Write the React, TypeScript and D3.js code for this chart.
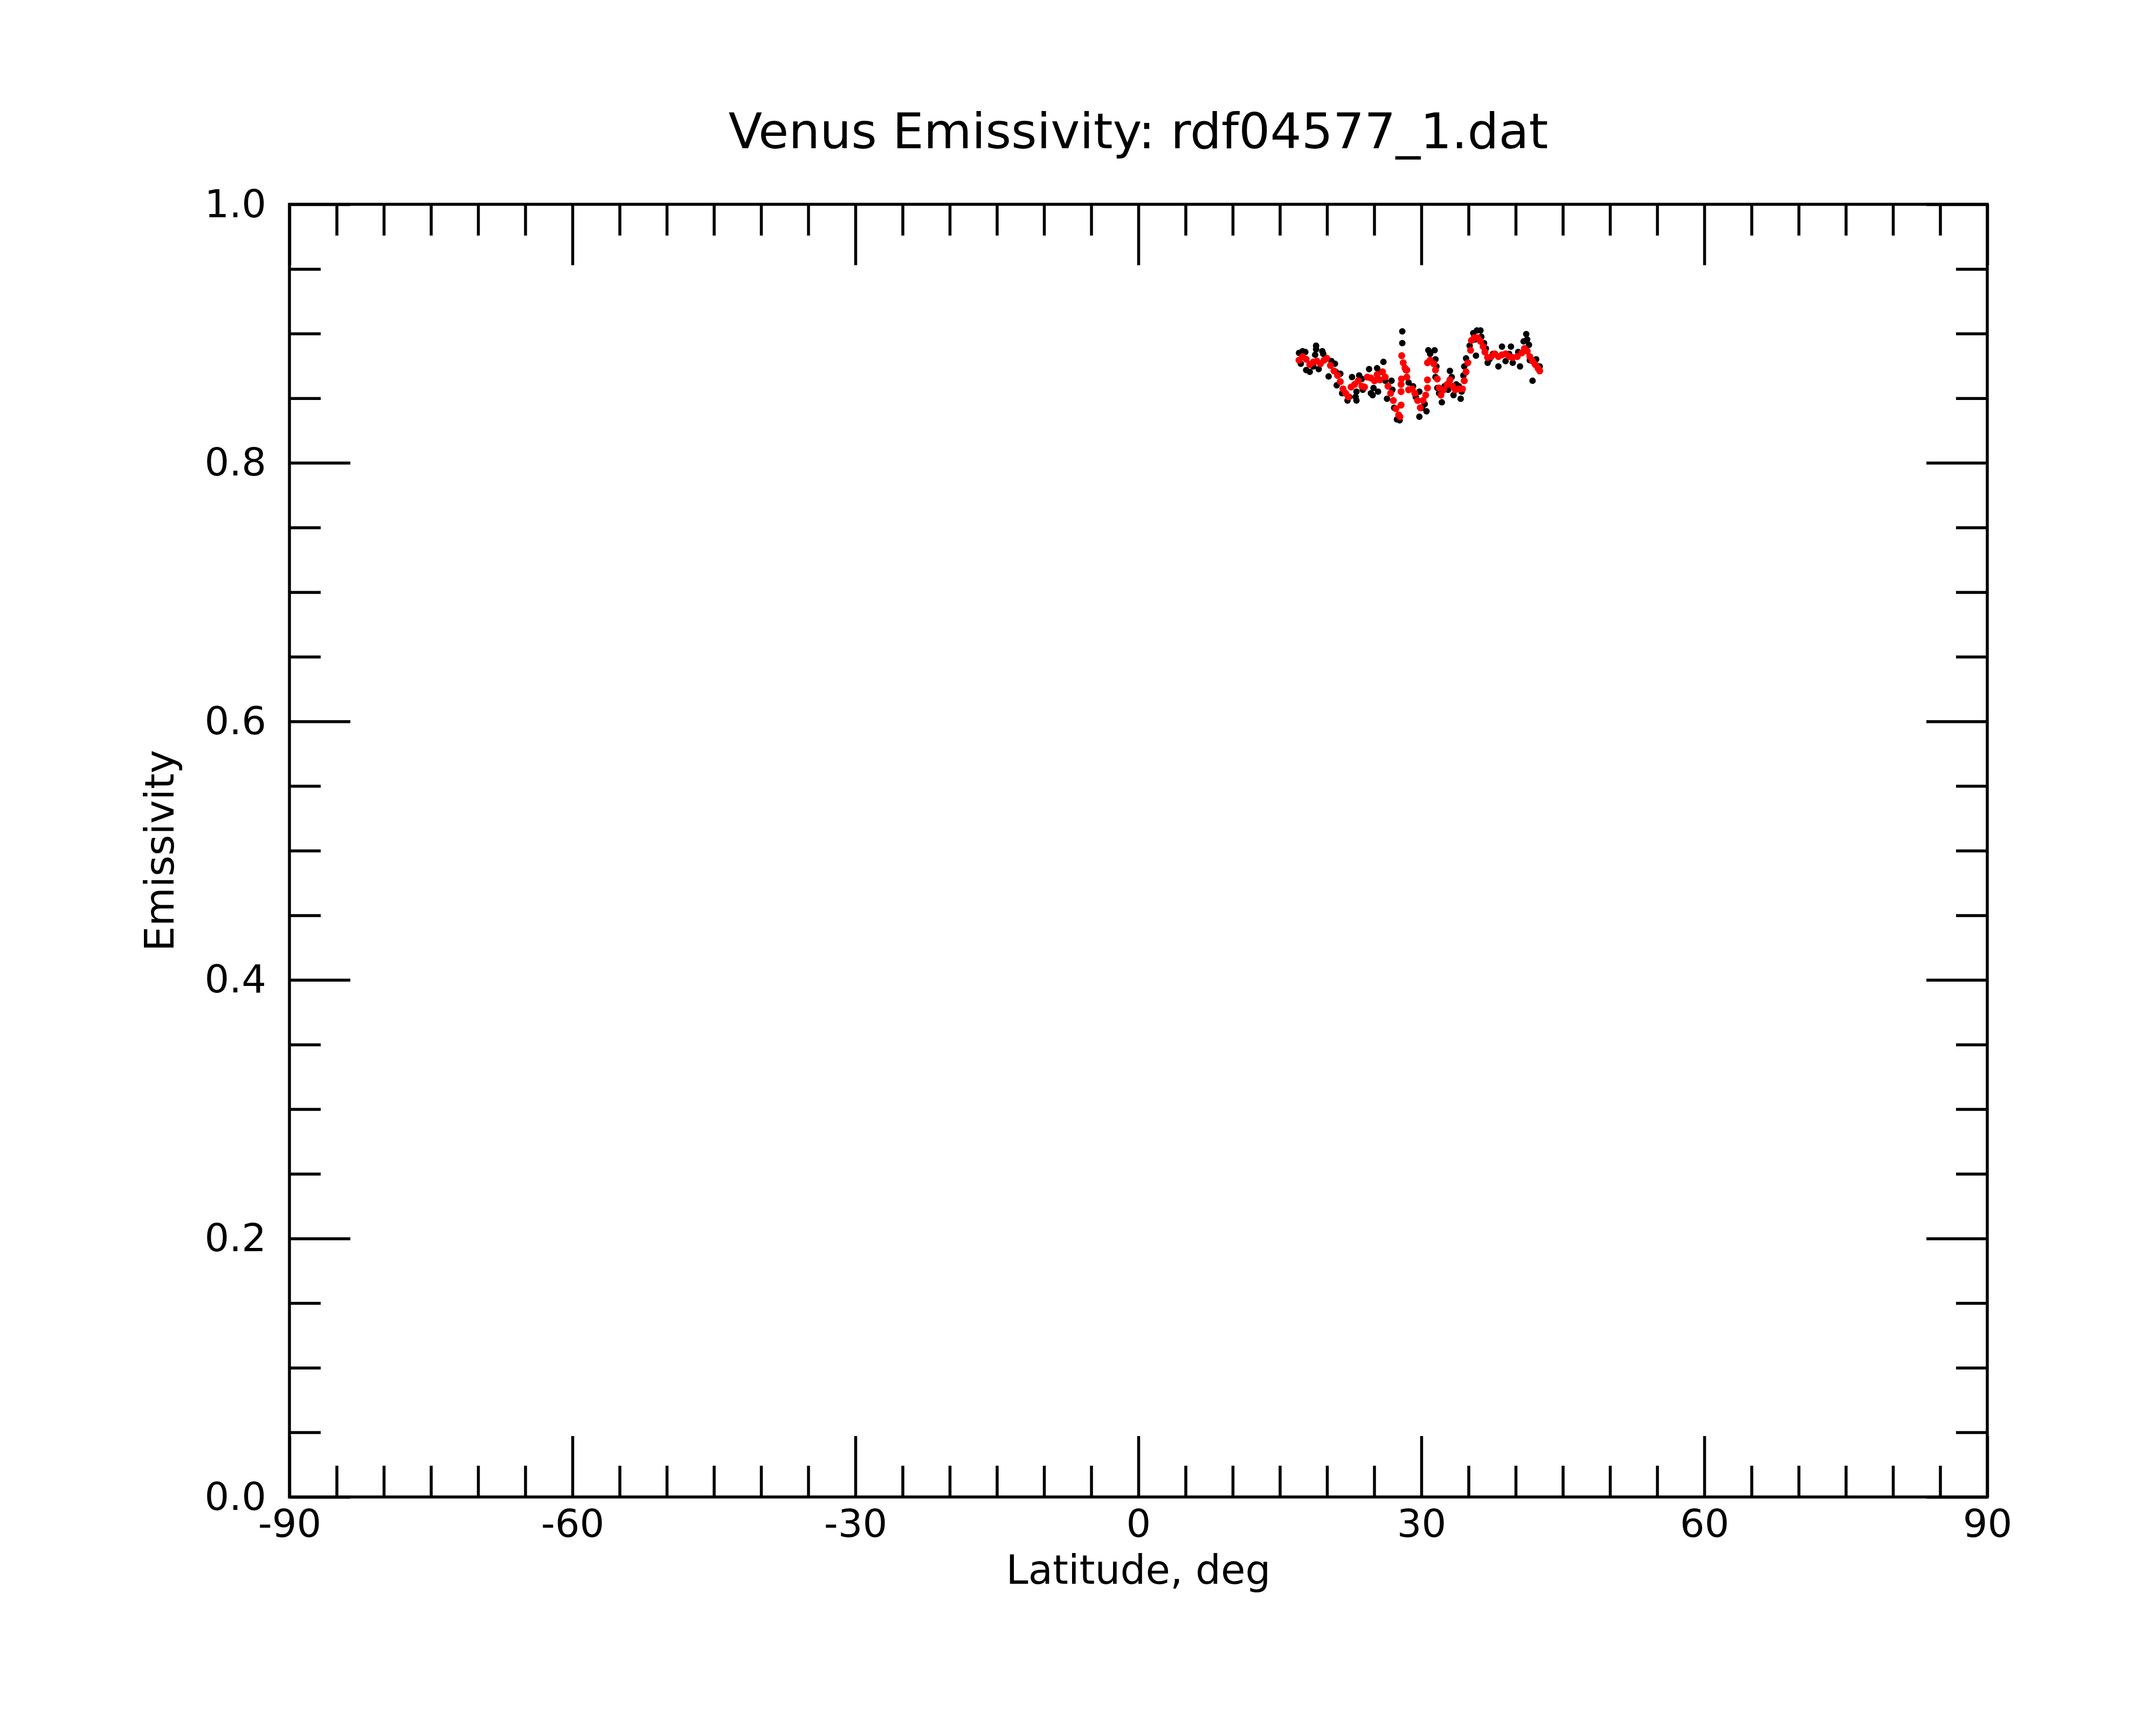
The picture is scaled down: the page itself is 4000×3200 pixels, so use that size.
import React, { useEffect, useRef } from 'react';
import * as d3 from 'd3';

// raw emissivity samples [latitude, emissivity]
const rawPoints: [number, number][] = [
  [17.03, 0.885], [17.41, 0.8864], [17.7, 0.8857], [17.22, 0.8767], [17.79, 0.8718],
  [18.17, 0.8704], [18.55, 0.8746], [18.84, 0.8906], [18.84, 0.8878], [18.74, 0.8836],
  [19.12, 0.8725], [19.5, 0.8864], [19.6, 0.8843], [20.17, 0.8669], [20.84, 0.8767],
  [20.93, 0.8704], [21.03, 0.86], [20.46, 0.8788], [21.41, 0.869], [21.6, 0.8538],
  [22.17, 0.8482], [22.36, 0.851], [22.65, 0.8663], [23.03, 0.851], [23.12, 0.8482],
  [23.41, 0.8676], [23.12, 0.8551], [23.7, 0.8649], [23.79, 0.8565], [24.46, 0.8725],
  [24.65, 0.8538], [24.84, 0.8524], [24.93, 0.8579], [25.31, 0.8732], [25.41, 0.8551],
  [25.79, 0.8704], [25.98, 0.8781], [26.17, 0.8635], [26.36, 0.8496], [26.84, 0.8635],
  [26.93, 0.8565], [27.12, 0.8426], [27.41, 0.8336], [27.7, 0.8329], [27.98, 0.9017],
  [27.98, 0.8926], [28.36, 0.8718], [28.65, 0.8621], [29.12, 0.8593], [29.41, 0.851],
  [29.79, 0.8551], [29.79, 0.8357], [30.08, 0.8426], [30.36, 0.8454], [30.55, 0.8399],
  [30.74, 0.8871], [30.93, 0.8843], [31.41, 0.8871], [31.5, 0.8801], [31.6, 0.8746],
  [31.5, 0.8663], [31.69, 0.8579], [31.88, 0.8538], [32.17, 0.8468], [32.46, 0.8593],
  [32.84, 0.8565], [33.03, 0.8711], [33.22, 0.8663], [33.41, 0.8524], [33.7, 0.8607],
  [33.98, 0.8593], [34.17, 0.8496], [34.27, 0.8551], [34.46, 0.8676], [34.55, 0.8746],
  [34.74, 0.8808], [35.12, 0.8906], [35.5, 0.9003], [35.7, 0.8954], [35.79, 0.8829],
  [35.89, 0.9024], [36.27, 0.9024], [36.36, 0.8975], [36.65, 0.8926], [36.84, 0.8885],
  [37.03, 0.8774], [37.22, 0.8801], [37.6, 0.8843], [38.17, 0.8746], [38.55, 0.8899],
  [38.93, 0.8787], [39.31, 0.8843], [39.5, 0.8899], [39.69, 0.8774], [40.27, 0.8857],
  [40.46, 0.8746], [40.84, 0.894], [41.12, 0.8996], [41.22, 0.8954], [41.41, 0.8913],
  [41.5, 0.8794], [41.79, 0.8635], [42.17, 0.8801], [42.55, 0.8746],
];

// smoothed emissivity [latitude, emissivity]
const smoothPoints: [number, number][] = [
  [17.03, 0.8794], [17.41, 0.8822], [17.79, 0.8801], [18.17, 0.876], [18.55, 0.878],
  [18.93, 0.8787], [19.31, 0.8767], [19.69, 0.8794], [19.98, 0.8808], [20.36, 0.8753],
  [20.74, 0.8711], [21.12, 0.8676], [21.41, 0.8628], [21.7, 0.8572], [21.98, 0.8538],
  [22.27, 0.851], [22.55, 0.8586], [22.93, 0.8607], [23.31, 0.8635], [23.7, 0.8593],
  [23.98, 0.8586], [24.27, 0.8663], [24.65, 0.8656], [25.03, 0.8635], [25.31, 0.8683],
  [25.6, 0.8642], [25.89, 0.8704], [26.17, 0.8663], [26.46, 0.8593], [26.74, 0.8538],
  [27.03, 0.8482], [27.31, 0.8419], [27.6, 0.8371], [27.73, 0.8357], [27.85, 0.8447],
  [27.85, 0.8551], [27.85, 0.8607], [27.89, 0.8649], [28.46, 0.8663], [28.27, 0.8732],
  [28.08, 0.8774], [27.92, 0.8829], [28.46, 0.8718], [28.65, 0.8565], [29.03, 0.8572],
  [29.31, 0.8538], [29.6, 0.8482], [29.89, 0.8426], [30.17, 0.8482], [30.46, 0.8524],
  [30.65, 0.8579], [30.65, 0.8642], [30.65, 0.8774], [30.93, 0.8794], [31.31, 0.8767],
  [31.5, 0.8718], [31.69, 0.8649], [31.88, 0.8579], [32.08, 0.8524], [32.36, 0.8565],
  [32.74, 0.8607], [33.03, 0.8642], [33.31, 0.8593], [33.6, 0.8565], [33.98, 0.8572],
  [34.36, 0.8572], [34.55, 0.8635], [34.74, 0.8704], [34.93, 0.8774], [35.22, 0.8871],
  [35.31, 0.8947], [35.6, 0.8968], [35.98, 0.8968], [36.27, 0.894], [36.55, 0.8899],
  [36.74, 0.8857], [37.03, 0.8815], [37.41, 0.8822], [37.79, 0.8843], [38.17, 0.8822],
  [38.55, 0.8836], [38.93, 0.8843], [39.31, 0.8822], [39.69, 0.8815], [40.17, 0.8822],
  [40.65, 0.885], [40.93, 0.8885], [41.22, 0.8864], [41.5, 0.8822], [41.79, 0.8787],
  [42.08, 0.876], [42.36, 0.8732], [42.55, 0.8711],
];

const xMajor = [-90, -60, -30, 0, 30, 60, 90];
const yMajor = [0, 0.2, 0.4, 0.6, 0.8, 1.0];

const W = 4000, H = 3200;
const m = { left: 537, right: 313, top: 379, bottom: 423 };
const font = 'DejaVu Sans, sans-serif';
const lw = 5.5;

const App = () => {
  const ref = useRef<SVGSVGElement>(null);

  useEffect(() => {
    if (!ref.current) return;
    const svg = d3.select(ref.current);
    svg.selectAll('*').remove();

    const w = W - m.left - m.right, h = H - m.top - m.bottom;
    const x = d3.scaleLinear().domain([-90, 90]).range([0, w]);
    const y = d3.scaleLinear().domain([0, 1]).range([h, 0]);
    const xMinor = d3.range(-90, 91, 5).filter(v => v % 30 !== 0);
    const yMinor = d3.range(0, 21).map(i => i * 0.05).filter((_, i) => i % 4 !== 0);

    const g = svg.append('g').attr('transform', `translate(${m.left},${m.top})`);

    const style = (sel: any) => {
      sel.select('.domain').remove();
      sel.selectAll('line').attr('stroke', '#000').attr('stroke-width', lw);
      sel.selectAll('text').attr('fill', '#000').attr('font-family', font).attr('font-size', 72);
    };

    // bottom
    g.append('g').attr('transform', `translate(0,${h})`)
      .call(d3.axisBottom(x).tickValues(xMajor).tickSize(-113).tickPadding(23).tickFormat(d => String(d)))
      .call(style);
    g.append('g').attr('transform', `translate(0,${h})`)
      .call(d3.axisBottom(x).tickValues(xMinor).tickSize(-58).tickFormat(() => ''))
      .call(style);
    // top
    g.append('g')
      .call(d3.axisTop(x).tickValues(xMajor).tickSize(-113).tickFormat(() => ''))
      .call(style);
    g.append('g')
      .call(d3.axisTop(x).tickValues(xMinor).tickSize(-58).tickFormat(() => ''))
      .call(style);
    // left
    g.append('g')
      .call(d3.axisLeft(y).tickValues(yMajor).tickSize(-113).tickPadding(43).tickFormat(d3.format('.1f')))
      .call(style);
    g.append('g')
      .call(d3.axisLeft(y).tickValues(yMinor).tickSize(-58).tickFormat(() => ''))
      .call(style);
    // right
    g.append('g').attr('transform', `translate(${w},0)`)
      .call(d3.axisRight(y).tickValues(yMajor).tickSize(-113).tickFormat(() => ''))
      .call(style);
    g.append('g').attr('transform', `translate(${w},0)`)
      .call(d3.axisRight(y).tickValues(yMinor).tickSize(-58).tickFormat(() => ''))
      .call(style);

    g.append('rect')
      .attr('width', w).attr('height', h)
      .attr('fill', 'none').attr('stroke', '#000').attr('stroke-width', lw);

    g.selectAll('.raw').data(rawPoints).enter().append('circle')
      .attr('class', 'raw')
      .attr('cx', d => x(d[0])).attr('cy', d => y(d[1]))
      .attr('r', 6).attr('fill', '#000');

    g.selectAll('.smooth').data(smoothPoints).enter().append('circle')
      .attr('class', 'smooth')
      .attr('cx', d => x(d[0])).attr('cy', d => y(d[1]))
      .attr('r', 6.5).attr('fill', '#ff0000');

    svg.append('text')
      .attr('x', m.left + w / 2).attr('y', 275)
      .attr('text-anchor', 'middle')
      .attr('font-family', font).attr('font-size', 91.5)
      .text('Venus Emissivity: rdf04577_1.dat');

    svg.append('text')
      .attr('x', m.left + w / 2).attr('y', 2938)
      .attr('text-anchor', 'middle')
      .attr('font-family', font).attr('font-size', 74)
      .text('Latitude, deg');

    svg.append('text')
      .attr('transform', `translate(322,${m.top + h / 2}) rotate(-90)`)
      .attr('text-anchor', 'middle')
      .attr('font-family', font).attr('font-size', 74)
      .text('Emissivity');
  }, []);

  return (
    <svg
      ref={ref}
      width={W}
      height={H}
      style={{ position: 'absolute', left: 0, top: 0, background: '#fff' }}
    />
  );
};

export default App;
